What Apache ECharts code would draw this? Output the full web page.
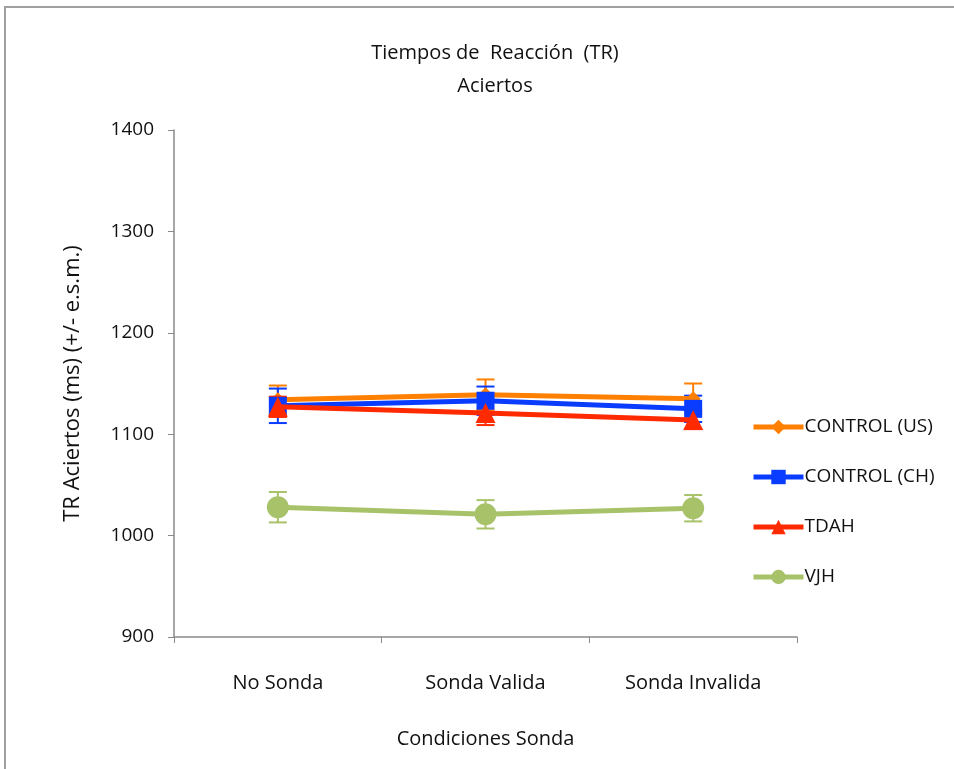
<!DOCTYPE html>
<html>
<head>
<meta charset="utf-8">
<script src="https://cdn.jsdelivr.net/npm/echarts@6/dist/echarts.min.js"></script>
<style>
  html, body { margin: 0; padding: 0; background: #fff; }
  #main { width: 954px; height: 769px; }
</style>
</head>
<body>
<div id="main"></div>
<script>
var categories = ['No Sonda', 'Sonda Valida', 'Sonda Invalida'];
var yTicks = [900, 1000, 1100, 1200, 1300, 1400];

var seriesNames = ['CONTROL (US)', 'CONTROL (CH)', 'TDAH', 'VJH'];
var controlUS = [1134, 1139, 1135];
var controlUSErr = [14, 15, 15];
var controlCH = [1128, 1133, 1125];
var controlCHErr = [17, 14, 13];
var tdah = [1127, 1121, 1114];
var tdahErr = [10, 12, 9];
var vjh = [1028, 1021, 1027];
var vjhErr = [15, 14, 13];

var colors = ['#ff7f00', '#0a3cff', '#ff2a00', '#a8c26a'];
var symbols = ['diamond', 'rect', 'triangle', 'circle'];
var symbolSizes = [15, 18, 20, 22];
var means = [controlUS, controlCH, tdah, vjh];
var errs = [controlUSErr, controlCHErr, tdahErr, vjhErr];

var dom = document.getElementById('main');
var myChart = echarts.init(dom, null, { renderer: 'canvas' });

var font = '"Open Sans", "Liberation Sans", sans-serif';

function errorBars(k) {
    var data = means[k].map(function (v, i) {
        return [i, v - errs[k][i], v + errs[k][i]];
    });
    return {
        name: 'err_' + k,
        type: 'custom',
        z: 1 + k,
        silent: true,
        encode: { x: 0, y: [1, 2] },
        renderItem: function (params, api) {
            var lo = api.coord([api.value(0), api.value(1)]);
            var hi = api.coord([api.value(0), api.value(2)]);
            var w = 9;
            var st = { stroke: colors[k], lineWidth: 2 };
            return {
                type: 'group',
                children: [
                    { type: 'line', shape: { x1: lo[0], y1: lo[1], x2: hi[0], y2: hi[1] }, style: st },
                    { type: 'line', shape: { x1: lo[0] - w, y1: lo[1], x2: lo[0] + w, y2: lo[1] }, style: st },
                    { type: 'line', shape: { x1: hi[0] - w, y1: hi[1], x2: hi[0] + w, y2: hi[1] }, style: st }
                ]
            };
        },
        data: data
    };
}

var series = [];
for (var k = 0; k < means.length; k++) {
    series.push(errorBars(k));
    series.push({
        name: seriesNames[k],
        type: 'line',
        z: 2 + k,
        data: means[k],
        symbol: symbols[k],
        symbolSize: symbolSizes[k],
        showAllSymbol: true,
        lineStyle: { color: colors[k], width: 5 },
        itemStyle: { color: colors[k] }
    });
}

var option = {
    backgroundColor: '#fff',
    animation: false,
    title: {
        text: 'Tiempos de  Reacción  (TR)\nAciertos',
        left: 490,
        top: 32,
        textAlign: 'center',
        textStyle: { fontFamily: font, fontSize: 20, fontWeight: 'normal', color: '#111', lineHeight: 33 }
    },
    graphic: [{
        type: 'rect',
        shape: { x: 5, y: 7, width: 960, height: 780 },
        style: { fill: 'none', stroke: '#a0a0a0', lineWidth: 2 },
        silent: true
    }],
    legend: {
        orient: 'vertical',
        left: 746,
        top: 410,
        itemGap: 26,
        itemWidth: 50,
        itemHeight: 18,
        data: seriesNames,
        lineStyle: { width: 5 },
        textStyle: { fontFamily: font, fontSize: 19, lineHeight: 24, color: '#111', padding: [0, 0, 0, -4] }
    },
    grid: { left: 174, right: 157, top: 130, bottom: 132 },
    xAxis: {
        type: 'category',
        data: categories,
        boundaryGap: true,
        name: 'Condiciones Sonda',
        nameLocation: 'middle',
        nameGap: 92,
        nameTextStyle: { fontFamily: font, fontSize: 20, color: '#111' },
        axisLine: { lineStyle: { color: '#8a8a8a', width: 1.5 } },
        axisTick: { show: true, length: 6, lineStyle: { color: '#8a8a8a' } },
        axisLabel: { fontFamily: font, fontSize: 20, color: '#111', margin: 36 }
    },
    yAxis: {
        type: 'value',
        min: yTicks[0],
        max: yTicks[yTicks.length - 1],
        interval: 100,
        name: 'TR Aciertos (ms) (+/- e.s.m.)',
        nameLocation: 'middle',
        nameGap: 90,
        nameTextStyle: { fontFamily: font, fontSize: 22, color: '#111' },
        axisLine: { show: true, lineStyle: { color: '#8a8a8a', width: 1.5 } },
        axisTick: { show: true, length: 6, lineStyle: { color: '#8a8a8a' } },
        splitLine: { show: false },
        axisLabel: { fontFamily: font, fontSize: 19, color: '#111', margin: 20, formatter: function (v) { return String(v); } }
    },
    series: series
};

myChart.setOption(option);
window.addEventListener('resize', myChart.resize);
</script>
</body>
</html>
